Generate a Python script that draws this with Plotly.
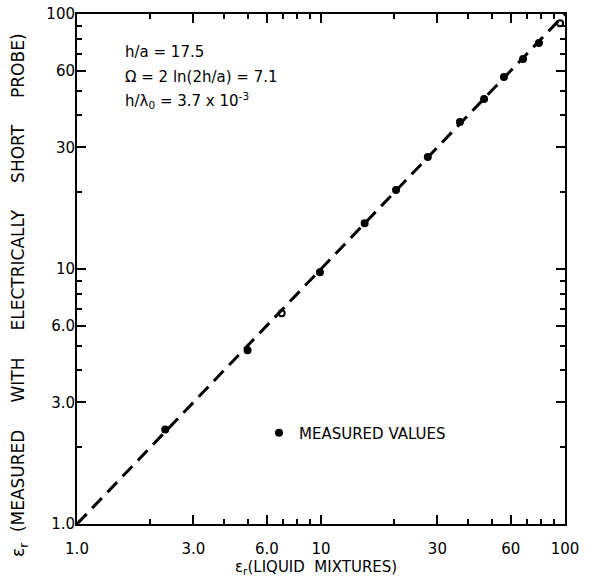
import plotly.graph_objects as go

# measured points (x = liquid mixture eps_r, y = measured with short probe)
meas_x = [2.3, 5.0, 6.9, 9.9, 15.1, 20.3, 27.4, 37.1, 46.6, 56.2, 67.3, 78.2, 95.5]
meas_y = [2.35, 4.8, 6.7, 9.7, 15.1, 20.4, 27.5, 37.7, 46.4, 56.6, 66.6, 77.0, 92.0]

# ideal agreement line
line_x = [1, 100]
line_y = [1, 100]

major_vals = [1, 3, 6, 10, 30, 60, 100]
major_text = ["1.0", "3.0", "6.0", "10", "30", "60", "100"]
minor_vals = [2, 4, 5, 7, 8, 9, 20, 40, 50, 70, 80, 90]

FONT = "DejaVu Sans"
NB = "\u00a0"

symbols = ["circle-open" if i in (2, len(meas_x) - 1) else "circle" for i in range(len(meas_x))]

fig = go.Figure()
fig.add_trace(go.Scatter(x=line_x, y=line_y, mode="lines",
                         line=dict(color="black", width=3, dash="14px,8px"),
                         showlegend=False, hoverinfo="skip"))
fig.add_trace(go.Scatter(x=meas_x, y=meas_y, mode="markers",
                         marker=dict(color="black", size=6, symbol=symbols,
                                     line=dict(color="black", width=2)),
                         name="MEASURED VALUES", showlegend=True))

axis_common = dict(type="log", range=[0, 2], tickmode="array",
                   tickvals=major_vals, ticktext=major_text,
                   ticks="inside", ticklen=9, tickwidth=2, tickcolor="black",
                   showline=True, linecolor="black", linewidth=2, mirror="ticks",
                   showgrid=False, zeroline=False,
                   tickfont=dict(family=FONT, size=15, color="black"),
                   minor=dict(tickmode="array", tickvals=minor_vals, ticks="inside",
                              ticklen=5, tickwidth=2, tickcolor="black", showgrid=False))

fig.update_xaxes(**axis_common, ticklabelstandoff=10)
fig.update_yaxes(**axis_common, ticklabelstandoff=-3)

L, R, T, B = 77, 565, 14, 524
W, H = R - L, B - T


def px(x):
    return (x - L) / W


def py(y):
    return (B - y) / H


ann = [
    dict(x=123, y=52, text="h/a = 17.5"),
    dict(x=123, y=77, text="Ω = 2 ln(2h/a) = 7.1"),
    dict(x=123, y=101, text="h/λ<sub>0</sub> = 3.7 x 10<sup>-3</sup>"),
]
annotations = []
for a in ann:
    annotations.append(dict(x=px(a["x"]), y=py(a["y"]),
                            xref="paper", yref="paper", xanchor="left", yanchor="middle",
                            text=a["text"], showarrow=False,
                            font=dict(family=FONT, size=15, color="black")))
gap = NB * 5
ytitle = "ε<sub>r</sub>" + NB * 2 + "(MEASURED" + gap + "WITH" + gap + "ELECTRICALLY" + gap + "SHORT" + gap + "PROBE)"
annotations.append(dict(x=px(19), y=py(295), xref="paper", yref="paper",
                        text=ytitle,
                        textangle=-90, showarrow=False, xanchor="center", yanchor="middle",
                        font=dict(family=FONT, size=17, color="black")))
annotations.append(dict(x=px(316), y=py(567), xref="paper", yref="paper",
                        text="ε<sub>r</sub>(LIQUID" + NB * 2 + "MIXTURES)", showarrow=False,
                        xanchor="center", yanchor="middle",
                        font=dict(family=FONT, size=15, color="black")))

fig.update_layout(
    width=594, height=584,
    margin=dict(l=L, r=594 - R, t=T, b=584 - B, autoexpand=False),
    paper_bgcolor="white", plot_bgcolor="white",
    annotations=annotations,
    legend=dict(x=px(259), y=py(433), xanchor="left", yanchor="middle",
                bgcolor="rgba(0,0,0,0)", itemwidth=30,
                font=dict(family=FONT, size=15, color="black")),
)

fig.write_html("out.html", config={"displayModeBar": False},
               post_script="document.body.style.margin='0';document.body.style.padding='0';")
